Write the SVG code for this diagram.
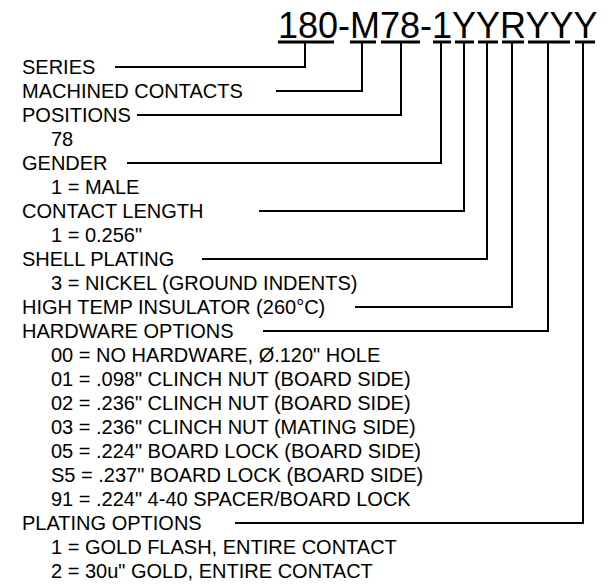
<svg xmlns="http://www.w3.org/2000/svg" width="612" height="587" viewBox="0 0 612 587">
<style>
text{font-family:"Liberation Sans",Arial,sans-serif;fill:#000}
.t{font-size:20px}
.h{font-size:36px}
.c{fill:none;stroke:#000;stroke-width:2}
.b{stroke:#000;stroke-width:3}
</style>
<rect width="612" height="587" fill="#fff"/>
<g id="title">
<text class="h" x="278" y="38">180-M78-1YYRYYY</text>
<g class="b">
<line x1="278" y1="42" x2="334" y2="42"/>
<line x1="350" y1="42" x2="376" y2="42"/>
<line x1="381" y1="42" x2="420" y2="42"/>
<line x1="433" y1="42" x2="451" y2="42"/>
<line x1="455" y1="42" x2="474" y2="42"/>
<line x1="478" y1="42" x2="498" y2="42"/>
<line x1="502" y1="42" x2="524" y2="42"/>
<line x1="528" y1="42" x2="570" y2="42"/>
<line x1="575" y1="42" x2="595" y2="42"/>
</g>
</g>
<g id="labels">
<text class="t" x="22" y="74">SERIES</text>
<text class="t" x="22" y="98">MACHINED CONTACTS</text>
<text class="t" x="22" y="122">POSITIONS</text>
<text class="t" x="51" y="146">78</text>
<text class="t" x="22" y="170">GENDER</text>
<text class="t" x="51" y="194">1 = MALE</text>
<text class="t" x="22" y="218">CONTACT LENGTH</text>
<text class="t" x="51" y="242">1 = 0.256"</text>
<text class="t" x="22" y="266">SHELL PLATING</text>
<text class="t" x="51" y="290">3 = NICKEL (GROUND INDENTS)</text>
<text class="t" x="22" y="314">HIGH TEMP INSULATOR (260°C)</text>
<text class="t" x="22" y="338">HARDWARE OPTIONS</text>
<text class="t" x="51" y="362">00 = NO HARDWARE, Ø.120" HOLE</text>
<text class="t" x="51" y="386">01 = .098" CLINCH NUT (BOARD SIDE)</text>
<text class="t" x="51" y="410">02 = .236" CLINCH NUT (BOARD SIDE)</text>
<text class="t" x="51" y="434">03 = .236" CLINCH NUT (MATING SIDE)</text>
<text class="t" x="51" y="458">05 = .224" BOARD LOCK (BOARD SIDE)</text>
<text class="t" x="51" y="482">S5 = .237" BOARD LOCK (BOARD SIDE)</text>
<text class="t" x="51" y="506">91 = .224" 4-40 SPACER/BOARD LOCK</text>
<text class="t" x="22" y="530">PLATING OPTIONS</text>
<text class="t" x="51" y="554">1 = GOLD FLASH, ENTIRE CONTACT</text>
<text class="t" x="51" y="578">2 = 30u" GOLD, ENTIRE CONTACT</text>
</g>
<g id="connectors" class="c">
<polyline points="115,67 305,67 305,42"/>
<polyline points="276,91 362,91 362,42"/>
<polyline points="137,115 401,115 401,42"/>
<polyline points="127,163 441,163 441,42"/>
<polyline points="259,211 464,211 464,42"/>
<polyline points="202,259 487,259 487,42"/>
<polyline points="355,307 512,307 512,42"/>
<polyline points="263,331 548,331 548,42"/>
<polyline points="235,523 583,523 583,42"/>
</g>
</svg>
